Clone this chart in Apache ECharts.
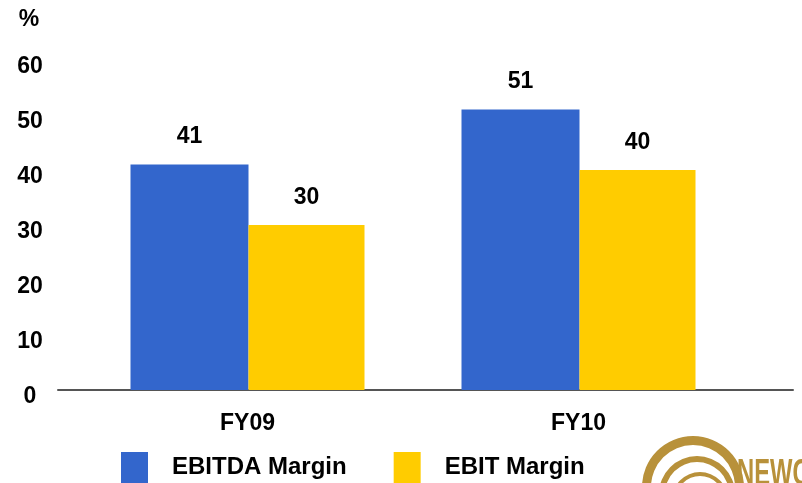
<!DOCTYPE html>
<html>
<head>
<meta charset="utf-8">
<script src="https://cdn.jsdelivr.net/npm/echarts@6/dist/echarts.min.js"></script>
<style>
html,body{margin:0;padding:0;background:#fff;}
#chart{width:802px;height:483px;}
</style>
</head>
<body>
<div id="chart"></div>
<script>
const categories = ['FY09', 'FY10'];
const ebitdaMargin = [41, 51];
const ebitMargin = [30, 40];
const seriesNames = ['EBITDA Margin', 'EBIT Margin'];
const yTicks = [0, 10, 20, 30, 40, 50, 60];

const FONT = 'Liberation Sans, Arial, sans-serif';
const chart = echarts.init(document.getElementById('chart'));
const labelStyle = {
  show: true, position: 'top', distance: 16,
  fontFamily: FONT, fontWeight: 'bold', fontSize: 23, color: '#000'
};
chart.setOption({
  animation: false,
  backgroundColor: '#fff',
  grid: [
    {left: 82, right: 58, top: 60, bottom: 93},
    {left: 58, right: 9, top: 60, bottom: 93}
  ],
  legend: {
    left: 121, top: 452, padding: 0,
    itemWidth: 27, itemHeight: 31, itemGap: 47,
    icon: 'rect',
    data: seriesNames,
    textStyle: {fontFamily: FONT, fontWeight: 'bold', fontSize: 24, color: '#000', padding: [0, 0, 0, 19]}
  },
  xAxis: [
    {
      type: 'category', data: categories, gridIndex: 0,
      axisLine: {show: false}, axisTick: {show: false},
      axisLabel: {margin: 22, fontFamily: FONT, fontWeight: 'bold', fontSize: 23, color: '#000'}
    },
    {
      type: 'value', gridIndex: 1, min: 0, max: 1,
      axisLine: {show: true, onZero: false, lineStyle: {color: '#555', width: 2}},
      axisTick: {show: false}, axisLabel: {show: false}, splitLine: {show: false}
    }
  ],
  yAxis: [
    {
      type: 'value', gridIndex: 0, min: yTicks[0], max: yTicks[yTicks.length - 1], interval: 10,
      name: '%', nameLocation: 'end', nameGap: 29,
      nameTextStyle: {fontFamily: FONT, fontWeight: 'bold', fontSize: 23, color: '#000', align: 'center', padding: [0, 0, 0, -106]},
      axisLine: {show: false}, axisTick: {show: false}, splitLine: {show: false},
      axisLabel: {margin: 52, align: 'center', verticalAlign: 'top', padding: [-5, 0, 0, 0], fontFamily: FONT, fontWeight: 'bold', fontSize: 23, color: '#000'}
    },
    {
      type: 'value', gridIndex: 1, show: false, min: 0, max: 1
    }
  ],
  series: [
    {
      name: seriesNames[0], type: 'bar', data: ebitdaMargin,
      xAxisIndex: 0, yAxisIndex: 0,
      barWidth: 118, barGap: '0%',
      itemStyle: {color: '#3366cc'}, label: labelStyle
    },
    {
      name: seriesNames[1], type: 'bar', data: ebitMargin,
      xAxisIndex: 0, yAxisIndex: 0,
      barWidth: 116, barGap: '0%',
      itemStyle: {color: '#ffcc00'}, label: labelStyle
    }
  ],
  graphic: [
    {type: 'ring', shape: {cx: 693, cy: 487, r: 51, r0: 42}, style: {fill: '#b8913a'}, silent: true},
    {type: 'ring', shape: {cx: 697, cy: 494, r: 38, r0: 32}, style: {fill: '#b8913a'}, silent: true},
    {type: 'ring', shape: {cx: 700, cy: 500, r: 28, r0: 24}, style: {fill: '#b8913a'}, silent: true},
    {type: 'text', x: 737, y: 457, scaleX: 0.66, scaleY: 1, silent: true,
     style: {x: 0, y: 0, text: 'NEWC', fill: '#b8913a', textVerticalAlign: 'top', verticalAlign: 'top',
             font: 'bold 36px "Liberation Sans", Arial, sans-serif'}}
  ]
});
</script>
</body>
</html>
